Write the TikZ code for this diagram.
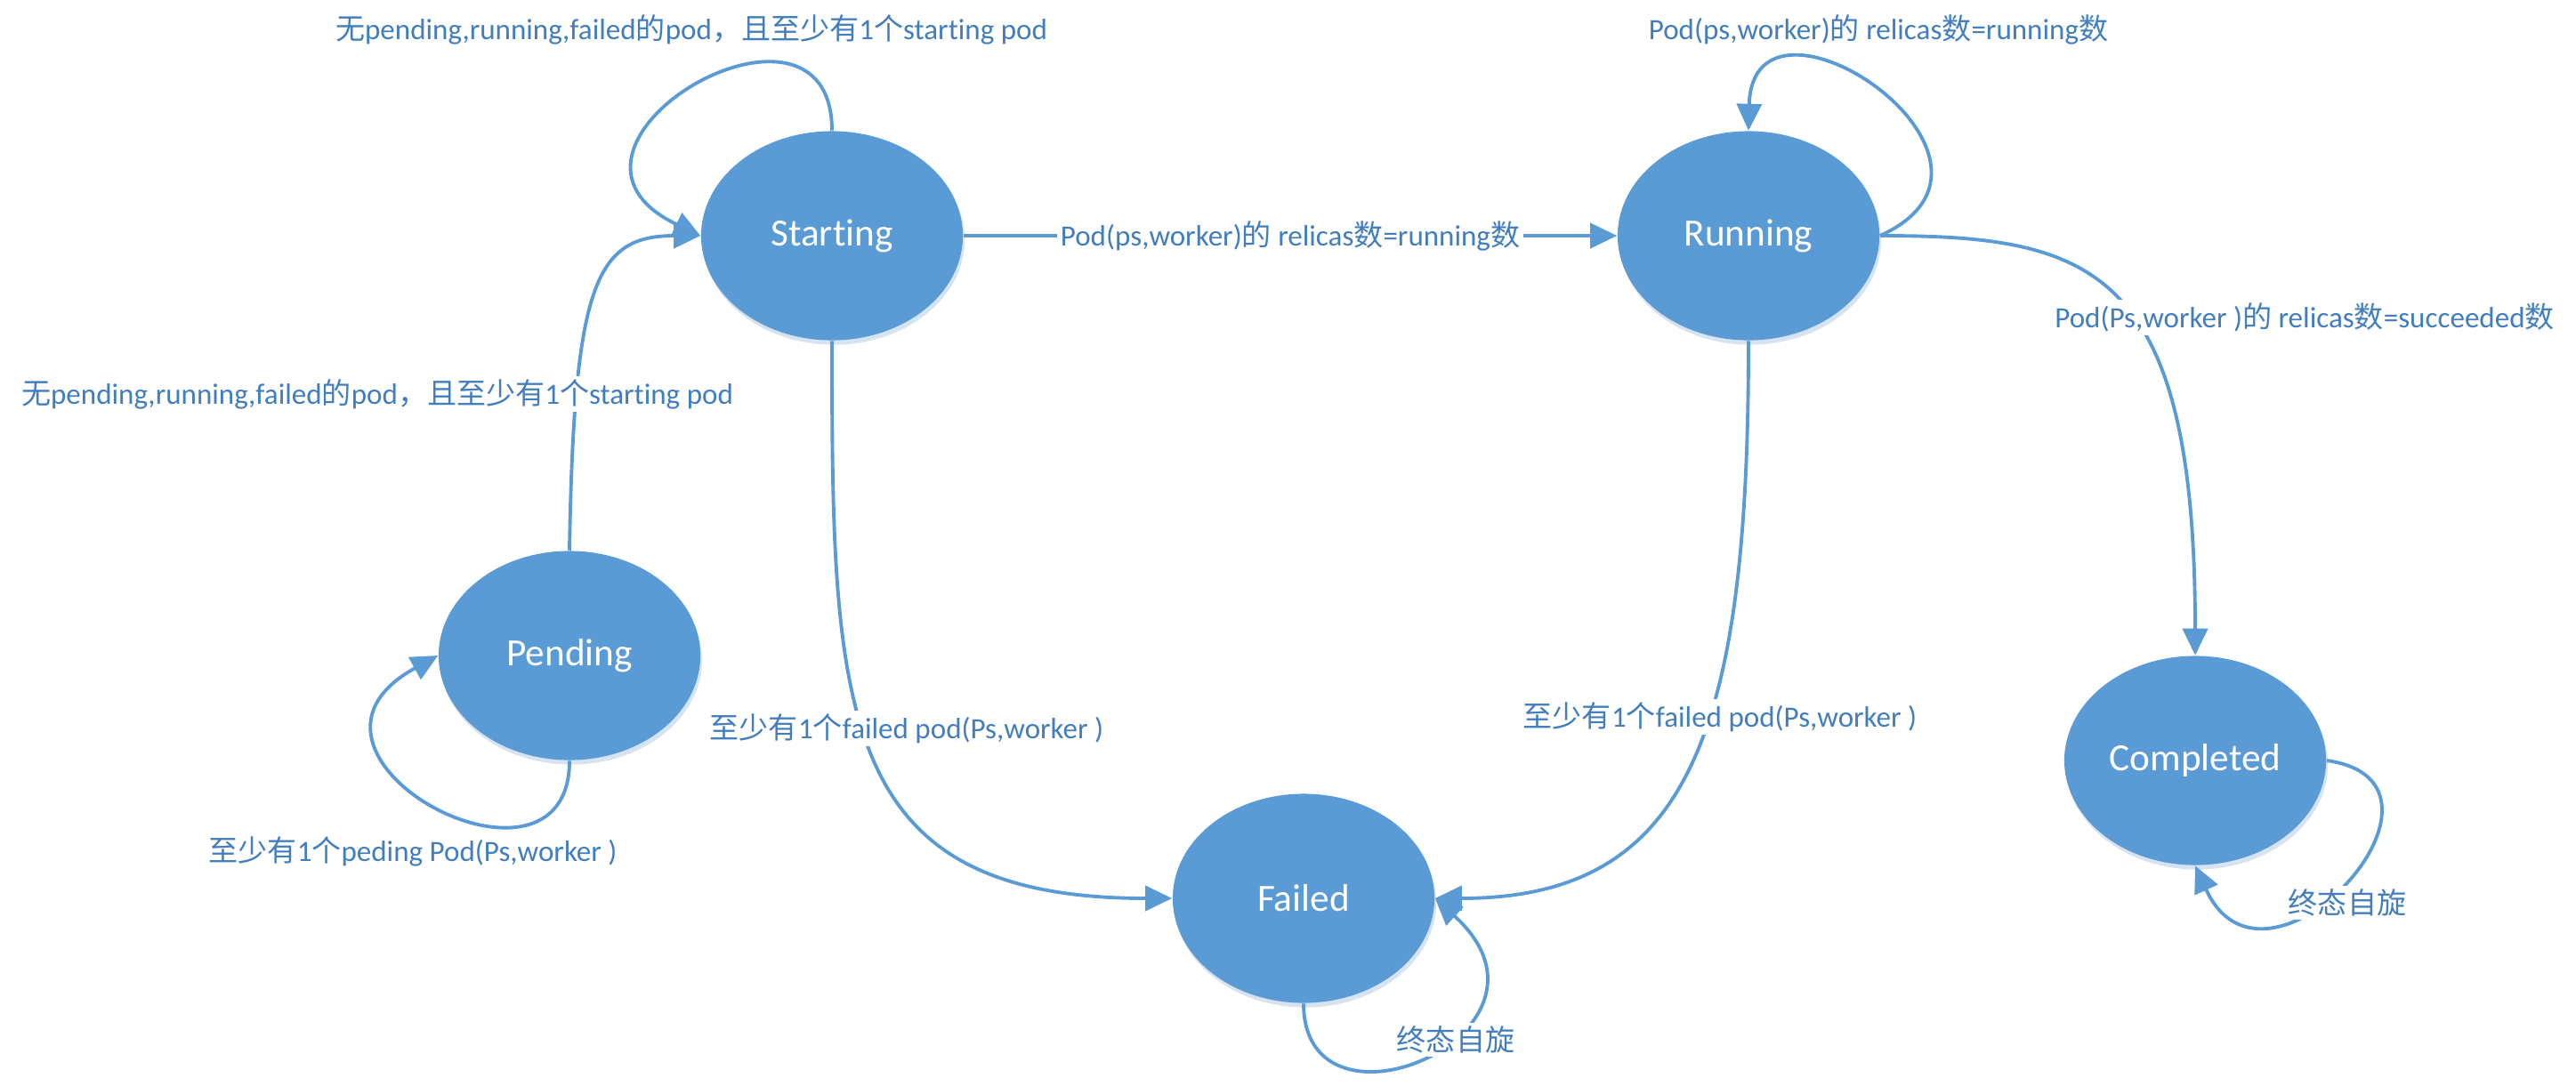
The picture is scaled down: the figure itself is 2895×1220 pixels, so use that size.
\documentclass[tikz,border=0pt]{standalone}
\usepackage{fontspec}
\setmainfont{Carlito}[Ligatures=NoCommon]
\newfontfamily\cjk{Noto Sans CJK SC}
\usetikzlibrary{arrows.meta,shapes.geometric,shadows}
\definecolor{officeblue}{RGB}{91,155,213}
\definecolor{lblblue}{RGB}{66,126,190}
\definecolor{shadowblue}{RGB}{214,228,242}
\newcommand{\zh}[1]{{\cjk #1}}

\begin{document}
\begin{tikzpicture}[x=0.01cm, y=-0.01cm,
  phase/.style={ellipse, fill=officeblue, minimum width=2.94cm, minimum height=2.35cm, inner sep=0pt,
    text=white, font=\fontsize{12.3}{14}\selectfont,
    drop shadow={shadow xshift=0.02cm, shadow yshift=-0.05cm, fill=shadowblue, opacity=1}},
  trans/.style={draw=officeblue, line width=1.1pt, -{Triangle[length=0.3cm,width=0.28cm]}},
  lbl/.style={fill=white, text=lblblue, inner sep=1pt, font=\fontsize{9.4}{11}\selectfont}]

\useasboundingbox (0,0) rectangle (2895,1220);

\node[phase] (pending) at (640,737) {Pending};
\node[phase] (starting) at (935,265) {Starting};
\node[phase] (running) at (1965,265) {Running};
\node[phase] (failed) at (1465,1010) {Failed};
\node[phase] (completed) at (2467,855) {Completed};

\draw[trans] (pending.north) .. controls +(5,-300) and +(-118,0) .. (starting.west);
\draw[trans] (starting.north) .. controls +(0,-190) and +(-210,-100) .. (starting.west);
\draw[trans] (starting.east) -- (running.west);
\draw[trans] (running.east) .. controls +(188,-85) and +(5,-188) .. (running.north);
\draw[trans] (running.east) .. controls +(238,0) and +(0,-438) .. (completed.north);
\draw[trans] (completed.east) .. controls +(175,25) and +(80,175) .. (completed.south);
\draw[trans] (failed.south) .. controls +(0,165) and +(165,150) .. (failed.east);
\draw[trans] (starting.south) .. controls +(0,417) and +(-378,0) .. (failed.west);
\draw[trans] (running.south) .. controls +(0,437) and +(288,0) .. (failed.east);
\draw[trans] (pending.south) .. controls +(0,180) and +(-204,112) .. (pending.west);

\node[lbl] (l-startloop) at (777,33) {\zh{无}pending,running,failed\zh{的}pod\zh{，且至少有}1\zh{个}starting pod};
\node[lbl] (l-pendstart) at (424,443) {\zh{无}pending,running,failed\zh{的}pod\zh{，且至少有}1\zh{个}starting pod};
\node[lbl] (l-startrun) at (1450,265) {Pod(ps,worker)\zh{的} relicas\zh{数}=running\zh{数}};
\node[lbl] (l-runloop) at (2111,33) {Pod(ps,worker)\zh{的} relicas\zh{数}=running\zh{数}};
\node[lbl] (l-runcomp) at (2590,357) {Pod(Ps,worker )\zh{的} relicas\zh{数}=succeeded\zh{数}};
\node[lbl] (l-startfail) at (1019,819) {\zh{至少有}1\zh{个}failed pod(Ps,worker )};
\node[lbl] (l-runfail) at (1933,806) {\zh{至少有}1\zh{个}failed pod(Ps,worker )};
\node[lbl] (l-pendloop) at (464,957) {\zh{至少有}1\zh{个}peding Pod(Ps,worker )};
\node[lbl] (l-failloop) at (1636,1169) {\zh{终态自旋}};
\node[lbl] (l-comploop) at (2638,1015) {\zh{终态自旋}};

\end{tikzpicture}
\end{document}
